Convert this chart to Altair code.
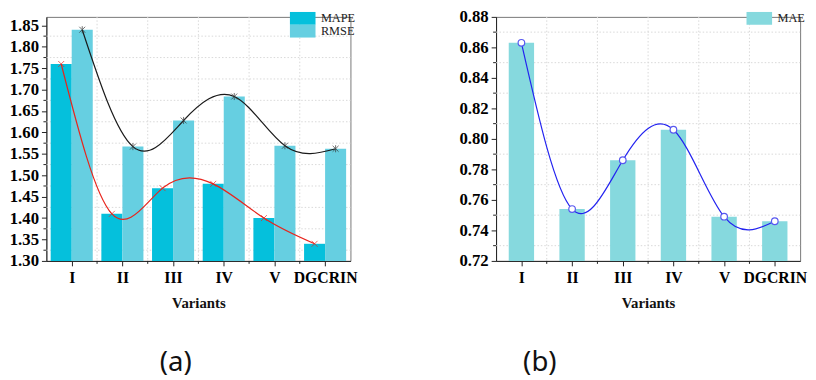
import json
import altair as alt
import pandas as pd

variants = ["I", "II", "III", "IV", "V", "DGCRIN"]
mape = [1.76, 1.41, 1.47, 1.48, 1.40, 1.34]
rmse = [1.840, 1.567, 1.628, 1.684, 1.569, 1.562]
mae = [0.863, 0.754, 0.786, 0.806, 0.749, 0.746]

ticks_a = [1.30, 1.35, 1.40, 1.45, 1.50, 1.55, 1.60, 1.65, 1.70, 1.75, 1.80, 1.85]
ticks_b = [0.72, 0.74, 0.76, 0.78, 0.80, 0.82, 0.84, 0.86, 0.88]
dom_a = [1.30, 1.87]
dom_b = [0.72, 0.88]

W, H = 309, 248
n = len(variants)

C_MAPE = "#05C0DC"
C_RMSE = "#66CFE1"
C_MAE = "#86D9DE"

label_expr = json.dumps(variants) + "[floor(datum.value)]"
SERIF = "Liberation Serif"

xscale = alt.Scale(domain=[0, n], nice=False, zero=False)
xaxis = alt.Axis(values=[i + 0.5 for i in range(n)], labelExpr=label_expr, title="Variants",
                 grid=False, labelAngle=0, tickSize=5, labelPadding=4, titlePadding=10,
                 labelFontSize=16)


def xenc(f):
    return alt.X(f, type="quantitative", scale=xscale, axis=xaxis)


def yenc(f, dom, ticks):
    return alt.Y(f, type="quantitative",
                 scale=alt.Scale(domain=dom, nice=False, zero=False),
                 axis=alt.Axis(values=ticks, format=".2f", title=None, grid=False, tickSize=5,
                               labelPadding=3, labelFontSize=17))


def mids(ticks, dom):
    out = []
    step = ticks[1] - ticks[0]
    for t in ticks:
        m = round(t + step / 2, 4)
        if m < dom[1]:
            out.append(m)
    return out


def frame_layers(ticks, dom):
    gm = pd.DataFrame({"p": mids(ticks, dom)})
    gv = pd.DataFrame({"p": list(range(1, n))})
    hgrid = alt.Chart(gm).mark_rule(color="#d8d8d8", strokeDash=[1.5, 2], strokeWidth=1).encode(
        y=yenc("p", dom, ticks), x=alt.value(0), x2=alt.value(W))
    vgrid = alt.Chart(gv).mark_rule(color="#d8d8d8", strokeDash=[1.5, 2], strokeWidth=1).encode(
        x=xenc("p"), y=alt.value(0), y2=alt.value(H))
    ymin = alt.Chart(gm).mark_rule(color="#222", strokeWidth=1).encode(
        y=yenc("p", dom, ticks), x=alt.value(0), x2=alt.value(-3))
    xmin = alt.Chart(gv).mark_rule(color="#222", strokeWidth=1).encode(
        x=xenc("p"), y=alt.value(H), y2=alt.value(H + 3))
    return [hgrid, vgrid, ymin, xmin]


def legend():
    return alt.Legend(title=None, orient="top-right", offset=-5, padding=0,
                      symbolType="M-2,-1H2V1H-2Z", symbolSize=169,
                      symbolStrokeWidth=0, labelFont=SERIF,
                      labelFontSize=12.5, labelColor="#222",
                      rowPadding=-1, labelOffset=12)


# ---------- panel (a) ----------
pad = 0.085
rows = []
for i, v in enumerate(variants):
    rows.append({"variant": v, "series": "MAPE", "value": mape[i],
                 "x0": i + pad, "x1": i + 0.5, "xm": i + (pad + 0.5) / 2})
    rows.append({"variant": v, "series": "RMSE", "value": rmse[i],
                 "x0": i + 0.5, "x1": i + 1 - pad, "xm": i + 0.5 + (0.5 - pad) / 2})
df_a = pd.DataFrame(rows)

xshape = "M-1,-1L1,1M-1,1L1,-1"
star = "M-1,-1L1,1M-1,1L1,-1M0,-1.2L0,1.2"

bars_a = alt.Chart(df_a).mark_bar(strokeWidth=0).encode(
    x=xenc("x0"), x2="x1",
    y=yenc("value", dom_a, ticks_a), y2=alt.datum(dom_a[0]),
    color=alt.Color("series:N", scale=alt.Scale(domain=["MAPE", "RMSE"], range=[C_MAPE, C_RMSE]),
                    legend=legend()))

line_mape = alt.Chart(df_a[df_a.series == "MAPE"]).mark_line(
    interpolate="natural", color="#E8241C", strokeWidth=1.2).encode(
    x=xenc("xm"), y=yenc("value", dom_a, ticks_a))
line_rmse = alt.Chart(df_a[df_a.series == "RMSE"]).mark_line(
    interpolate="natural", color="#1a1a1a", strokeWidth=1.2).encode(
    x=xenc("xm"), y=yenc("value", dom_a, ticks_a))
pt_mape = alt.Chart(df_a[df_a.series == "MAPE"]).mark_point(
    shape=xshape, size=36, filled=False, color="#E8241C", strokeWidth=1).encode(
    x=xenc("xm"), y=yenc("value", dom_a, ticks_a))
pt_rmse = alt.Chart(df_a[df_a.series == "RMSE"]).mark_point(
    shape=star, size=36, filled=False, color="#333", strokeWidth=1).encode(
    x=xenc("xm"), y=yenc("value", dom_a, ticks_a))

panel_a = alt.layer(*frame_layers(ticks_a, dom_a), bars_a, line_mape, line_rmse, pt_mape, pt_rmse).properties(
    width=W, height=H,
    title=alt.TitleParams("(a)", orient="bottom", anchor="middle", frame="group", dx=-23,
                          font="Noto Sans", fontSize=28, fontWeight="normal", color="#111", offset=40))

# ---------- panel (b) ----------
df_b = pd.DataFrame({"variant": variants, "series": ["MAE"] * n, "value": mae,
                     "x0": [i + 0.25 for i in range(n)], "x1": [i + 0.75 for i in range(n)],
                     "xm": [i + 0.5 for i in range(n)]})

bars_b = alt.Chart(df_b).mark_bar(strokeWidth=0).encode(
    x=xenc("x0"), x2="x1",
    y=yenc("value", dom_b, ticks_b), y2=alt.datum(dom_b[0]),
    color=alt.Color("series:N", scale=alt.Scale(domain=["MAE"], range=[C_MAE]),
                    legend=legend()))
line_mae = alt.Chart(df_b).mark_line(interpolate="natural", color="#2323F0", strokeWidth=1.2).encode(
    x=xenc("xm"), y=yenc("value", dom_b, ticks_b))
pt_mae = alt.Chart(df_b).mark_point(shape="circle", size=45, filled=True, fill="white",
                                    stroke="#5858F0", strokeWidth=1.2, opacity=1).encode(
    x=xenc("xm"), y=yenc("value", dom_b, ticks_b))

panel_b = alt.layer(*frame_layers(ticks_b, dom_b), bars_b, line_mae, pt_mae).properties(
    width=W, height=H,
    title=alt.TitleParams("(b)", orient="bottom", anchor="middle", frame="group", dx=-110,
                          font="Noto Sans", fontSize=28, fontWeight="normal", color="#111", offset=40))

chart = alt.hconcat(panel_a, panel_b, spacing=101).resolve_scale(color="independent").configure(
    padding={"left": 0, "top": -4, "right": 0, "bottom": 0}
).configure_view(stroke="#777", strokeWidth=1).configure_axis(
    labelFont=SERIF, labelFontWeight="bold", labelColor="#000",
    titleFont=SERIF, titleFontWeight="bold", titleFontSize=15, titleColor="#111",
    domainColor="#222", tickColor="#222", domainWidth=1, tickWidth=1)

chart.save("out.html", embed_options={"renderer": "svg", "actions": False})
